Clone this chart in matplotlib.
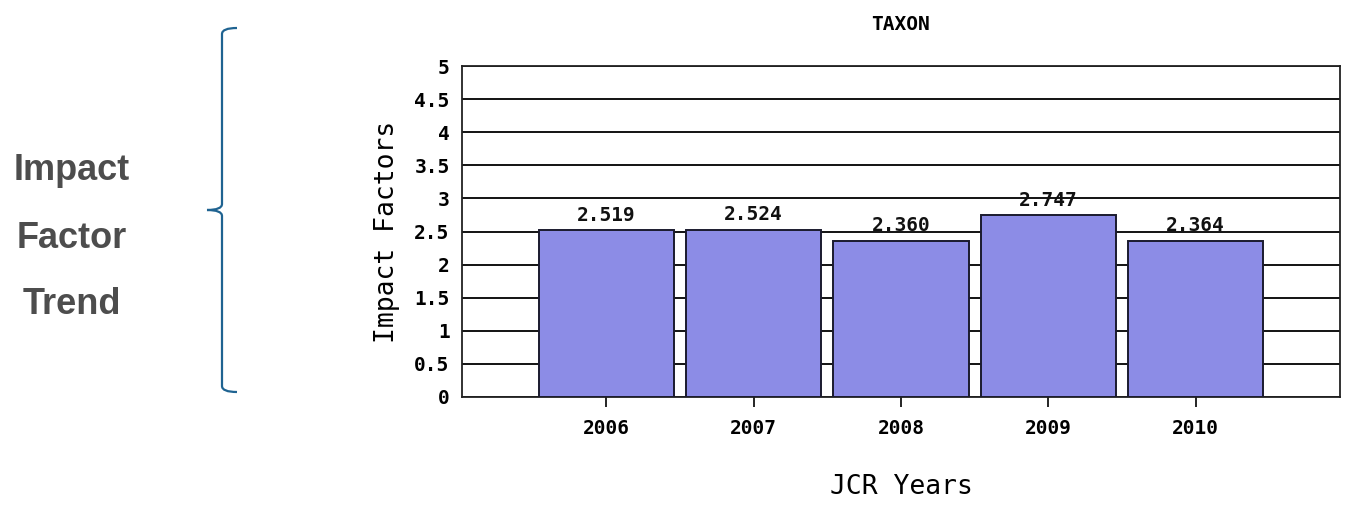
import numpy as np
import matplotlib.pyplot as plt
from matplotlib.path import Path
from matplotlib.patches import PathPatch

# 数据
years = ['2006', '2007', '2008', '2009', '2010']
impact = [2.519, 2.524, 2.360, 2.747, 2.364]
yticks = [0, 0.5, 1, 1.5, 2, 2.5, 3, 3.5, 4, 4.5, 5]
ytick_labels = ['0', '0.5', '1', '1.5', '2', '2.5', '3', '3.5', '4', '4.5', '5']
side_words = ['Impact', 'Factor', 'Trend']

W, H = 1351, 508
fig = plt.figure(figsize=(W / 100, H / 100), dpi=100)
ax = fig.add_axes([462 / W, 1 - 397 / H, (1340 - 462) / W, (397 - 66) / H])

mono = 'DejaVu Sans Mono'
x = np.arange(len(years))
bars = ax.bar(x, impact, width=0.92, color='#8c8ce6', edgecolor='#1a1a2e',
              linewidth=1.4, zorder=3)
for xi, v in zip(x, impact):
    ax.annotate(f'{v:.3f}', (xi, v), xytext=(0, 4), textcoords='offset points',
                ha='center', va='bottom', family=mono, fontweight='bold',
                fontsize=14, color='#111111', zorder=4)

ax.set_xlim(-0.98, len(years) - 1 + 0.98)
ax.set_ylim(0, 5)
ax.set_yticks(yticks)
ax.set_yticklabels(ytick_labels, family=mono, fontweight='bold', fontsize=14)
ax.set_xticks(x)
ax.set_xticklabels(years, family=mono, fontweight='bold', fontsize=14)
ax.tick_params(axis='y', length=0, pad=9)
ax.tick_params(axis='x', length=7, width=1.2, direction='out', pad=9)
ax.yaxis.grid(True, color='black', linewidth=1.3, zorder=0)
ax.set_axisbelow(True)
for s in ax.spines.values():
    s.set_linewidth(1.3)
    s.set_color('#222222')

ax.set_title('TAXON', family=mono, fontweight='bold', fontsize=14, pad=26)
ax.set_xlabel('JCR Years', family=mono, fontsize=19, labelpad=26)
ax.set_ylabel('Impact Factors', family=mono, fontsize=19, labelpad=10)

# 左侧文字
for word, yy in zip(side_words, [170, 238, 304]):
    fig.text(72 / W, 1 - yy / H, word, ha='center', va='center',
             family='Liberation Sans', fontweight='bold', fontsize=26,
             color='#4d4d4d')

# 大括号
def px(xp, yp):
    return (xp / W, 1 - yp / H)

verts = [px(237, 28), px(222, 28), px(222, 34),
         px(222, 204), px(222, 210), px(207, 210),
         px(222, 210), px(222, 216),
         px(222, 386), px(222, 392), px(237, 392)]
codes = [Path.MOVETO, Path.CURVE3, Path.CURVE3,
         Path.LINETO, Path.CURVE3, Path.CURVE3,
         Path.CURVE3, Path.CURVE3,
         Path.LINETO, Path.CURVE3, Path.CURVE3]
fig.patches.append(PathPatch(Path(verts, codes), transform=fig.transFigure,
                             fill=False, edgecolor='#1f6391', linewidth=1.6))

fig.savefig('out.png', dpi=100)
